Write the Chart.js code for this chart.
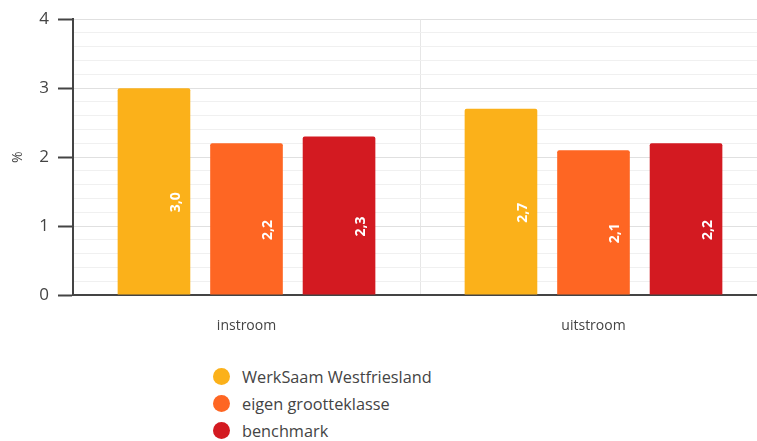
<!DOCTYPE html>
<html>
<head>
<meta charset="utf-8">
<script src="https://cdn.jsdelivr.net/npm/chart.js@4"></script>
<style>
  html, body { margin: 0; padding: 0; background: #fff; overflow: hidden; width: 757px; height: 441px; }
  #wrap { position: relative; width: 767px; height: 441px; }
  #legend { position: absolute; left: 213px; top: 363px; font-family: 'Open Sans', 'Liberation Sans', sans-serif; font-size: 16.3px; color: #444; }
  .item { height: 27px; display: flex; align-items: center; }
  .dot { width: 17px; height: 17px; border-radius: 50%; margin-right: 12px; }
</style>
</head>
<body>
<div id="wrap">
  <canvas id="chart" width="767" height="350"></canvas>
  <div id="legend"></div>
</div>
<script>
// chart data
const categories = ['instroom', 'uitstroom'];
const seriesNames = ['WerkSaam Westfriesland', 'eigen grootteklasse', 'benchmark'];
const werksaam = [3.0, 2.7];
const grootteklasse = [2.2, 2.1];
const benchmark = [2.3, 2.2];
const yTicks = [0, 1, 2, 3, 4];
const colors = ['#FBB11A', '#FE6623', '#D31A21'];

const fontFam = "'Open Sans', 'Liberation Sans', sans-serif";
const isMajor = v => Math.abs(v - Math.round(v)) < 1e-6 && yTicks.includes(Math.round(v));

// rotated white labels inside the bars
const barLabels = {
  id: 'barLabels',
  afterDatasetsDraw(chart) {
    const ctx = chart.ctx;
    ctx.save();
    ctx.fillStyle = '#fff';
    ctx.font = 'bold 14px ' + fontFam;
    ctx.textAlign = 'right';
    ctx.textBaseline = 'middle';
    chart.data.datasets.forEach((ds, i) => {
      chart.getDatasetMeta(i).data.forEach((bar, j) => {
        const txt = ds.data[j].toFixed(1).replace('.', ',');
        ctx.save();
        ctx.translate(bar.x + 22, (bar.y + bar.base) / 2 + 1);
        ctx.rotate(-Math.PI / 2);
        ctx.fillText(txt, 0, 0);
        ctx.restore();
      });
    });
    ctx.restore();
  }
};

const chart = new Chart(document.getElementById('chart'), {
  type: 'bar',
  data: {
    labels: categories,
    datasets: [
      { label: seriesNames[0], data: werksaam, backgroundColor: colors[0] },
      { label: seriesNames[1], data: grootteklasse, backgroundColor: colors[1] },
      { label: seriesNames[2], data: benchmark, backgroundColor: colors[2] },
    ].map(d => Object.assign(d, { borderRadius: { topLeft: 2, topRight: 2 }, borderSkipped: 'bottom', barPercentage: 0.785, categoryPercentage: 0.8 })),
  },
  options: {
    responsive: false,
    animation: false,
    layout: { padding: { top: 10, right: 0, left: 0, bottom: 0 } },
    plugins: {
      legend: { display: false },
      tooltip: { enabled: false },
    },
    scales: {
      x: {
        grid: { offset: true, color: '#e6e6e6', drawTicks: false },
        border: { color: '#444', width: 2 },
        ticks: { color: '#444', font: { family: fontFam, size: 14 }, padding: 23 },
        afterFit: s => { s.height = 55; },
      },
      y: {
        min: 0,
        max: 4,
        afterBuildTicks: s => {
          const t = [];
          for (let k = 0; k <= 20; k++) t.push({ value: k / 5 });
          s.ticks = t;
        },
        grid: {
          color: c => (c.tick && isMajor(c.tick.value)) ? '#e0e0e0' : '#f0f0f0',
          tickColor: c => (c.tick && isMajor(c.tick.value)) ? '#444' : 'rgba(0,0,0,0)',
          tickLength: 15,
          tickWidth: 2,
        },
        border: { color: '#444', width: 2 },
        ticks: {
          autoSkip: false,
          color: '#444',
          font: { family: fontFam, size: 17 },
          padding: 9,
          callback: v => isMajor(v) ? String(Math.round(v)) : '',
        },
        title: { display: true, text: '%', color: '#444', font: { family: fontFam, size: 14 }, padding: { top: 10, bottom: 0 } },
        afterFit: s => { s.width = 73; },
      },
    },
  },
  plugins: [barLabels],
});

// legend below the chart, stacked
const legend = document.getElementById('legend');
chart.data.datasets.forEach(ds => {
  const row = document.createElement('div');
  row.className = 'item';
  const dot = document.createElement('span');
  dot.className = 'dot';
  dot.style.background = ds.backgroundColor;
  const lab = document.createElement('span');
  lab.textContent = ds.label;
  row.appendChild(dot);
  row.appendChild(lab);
  legend.appendChild(row);
});
</script>
</body>
</html>
